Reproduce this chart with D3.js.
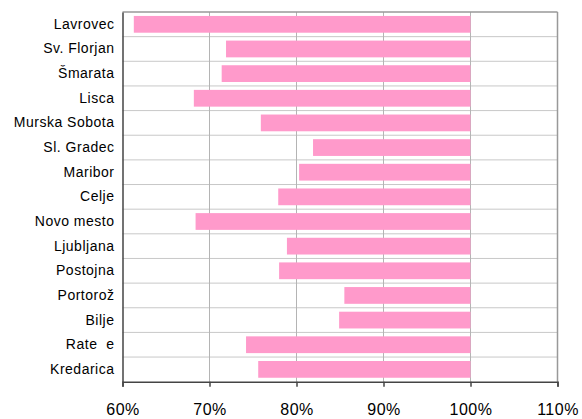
<!DOCTYPE html>
<html>
<head>
<meta charset="utf-8">
<style>
  body { margin: 0; background: #fff; }
  svg text { font-family: "Liberation Sans", Arial, sans-serif; fill: #000; white-space: pre; }
</style>
</head>
<body>
<svg id="chart"></svg>
<script src="https://d3js.org/d3.v7.min.js"></script>
<script>
// stations, top to bottom
const stations = ["Lavrovec", "Sv. Florjan", "Šmarata", "Lisca", "Murska Sobota", "Sl. Gradec",
  "Maribor", "Celje", "Novo mesto", "Ljubljana", "Postojna", "Portorož", "Bilje", "Rate  e", "Kredarica"];
// bar start (percent); every bar runs to 100%
const shares = [61.3, 71.9, 71.4, 68.2, 75.9, 81.9, 80.3, 77.9, 68.4, 78.9, 78.0, 85.5, 84.9, 74.2, 75.6];
const barEnd = 100;
const ticks = [60, 70, 80, 90, 100, 110];

const width = 582, height = 419;
const margin = { top: 12, right: 24.5, bottom: 37.3, left: 122.5 };

const svg = d3.select("#chart").attr("width", width).attr("height", height);

const x = d3.scaleLinear().domain([60, 110]).range([margin.left, width - margin.right]);
const y = d3.scaleBand().domain(stations).range([margin.top, height - margin.bottom]).paddingInner(0.32).paddingOuter(0.16);
const band = d3.scaleBand().domain(stations).range([margin.top, height - margin.bottom]);

// horizontal grid between categories
svg.append("g").selectAll("line")
  .data(stations.slice(1))
  .join("line")
  .attr("x1", x(60)).attr("x2", x(110))
  .attr("y1", d => band(d)).attr("y2", d => band(d))
  .attr("stroke", "#c8c8c8").attr("stroke-width", 1);

// vertical grid
svg.append("g").selectAll("line")
  .data(ticks.slice(1, -1))
  .join("line")
  .attr("x1", d => x(d)).attr("x2", d => x(d))
  .attr("y1", margin.top).attr("y2", height - margin.bottom)
  .attr("stroke", "#b4b4b4").attr("stroke-width", 1);

// bars
svg.append("g").selectAll("rect")
  .data(stations)
  .join("rect")
  .attr("x", (d, i) => x(shares[i]))
  .attr("width", (d, i) => x(barEnd) - x(shares[i]))
  .attr("y", d => y(d))
  .attr("height", y.bandwidth())
  .attr("fill", "#ff9acb");

// frame: top and right
svg.append("line")
  .attr("x1", x(60)).attr("x2", x(110))
  .attr("y1", margin.top).attr("y2", margin.top)
  .attr("stroke", "#999").attr("stroke-width", 1.5);
svg.append("line")
  .attr("x1", x(110)).attr("x2", x(110))
  .attr("y1", margin.top).attr("y2", height - margin.bottom)
  .attr("stroke", "#999").attr("stroke-width", 1.5);

// bottom axis
const xAxis = svg.append("g")
  .attr("transform", `translate(0,${height - margin.bottom})`)
  .call(d3.axisBottom(x).tickValues(ticks).tickFormat(d => d + "%").tickSizeOuter(0).tickSize(5).tickPadding(17));
xAxis.select(".domain").attr("stroke", "#444").attr("stroke-width", 1.5);
xAxis.selectAll(".tick line").attr("stroke", "#444").attr("stroke-width", 1.5);
xAxis.selectAll("text").attr("font-size", 16).attr("letter-spacing", 0.5)
  .attr("font-family", "Liberation Sans, Arial, sans-serif").attr("fill", "#000");

// left axis
const yAxis = svg.append("g")
  .attr("transform", `translate(${margin.left},0)`)
  .call(d3.axisLeft(band).tickSize(0).tickPadding(8));
yAxis.select(".domain").attr("stroke", "#444").attr("stroke-width", 1.5);
yAxis.selectAll("text").attr("font-size", 14).attr("letter-spacing", 0.5)
  .attr("font-family", "Liberation Sans, Arial, sans-serif").attr("fill", "#000");
</script>
</body>
</html>
